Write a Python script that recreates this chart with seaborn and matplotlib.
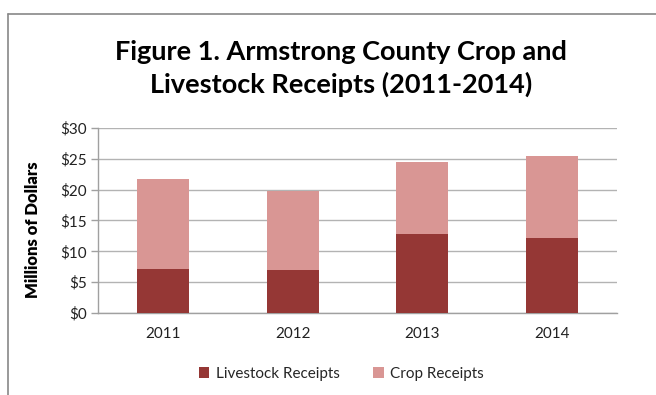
import matplotlib
matplotlib.use("Agg")
import matplotlib.pyplot as plt
import seaborn as sns
import pandas as pd
from matplotlib.patches import Patch
from matplotlib.lines import Line2D

years = ["2011", "2012", "2013", "2014"]
livestock = [7.2, 6.95, 12.8, 12.1]
crop = [14.6, 12.85, 11.7, 13.3]
yticks = [0, 5, 10, 15, 20, 25, 30]
ytick_labels = ["$0", "$5", "$10", "$15", "$20", "$25", "$30"]

c_live = "#953735"
c_crop = "#D99694"

sns.set_theme(style="white")
plt.rcParams["font.family"] = ["Lato", "DejaVu Sans"]

df = pd.DataFrame({"Year": years, "Livestock": livestock, "Crop": crop})
df["Total"] = df["Livestock"] + df["Crop"]

fig = plt.figure(figsize=(6.56, 3.95), dpi=100)
ax = fig.add_axes([0.149, 0.2076, 0.792, 0.4684])

sns.barplot(data=df, x="Year", y="Total", color=c_crop, width=0.4, ax=ax,
            saturation=1, edgecolor="none", zorder=3)
sns.barplot(data=df, x="Year", y="Livestock", color=c_live, width=0.4, ax=ax,
            saturation=1, edgecolor="none", zorder=3)

ax.set_xlim(-0.5, 3.5)
ax.set_ylim(0, 30)
ax.set_yticks(yticks)
ax.set_yticklabels(ytick_labels, fontsize=11, color="#222222")
ax.set_xticks(range(len(years)))
ax.set_xticklabels(years, fontsize=11, color="#222222")
ax.set_xticks([-0.5, 0.5, 1.5, 2.5, 3.5], minor=True)
ax.tick_params(axis="x", which="major", length=0, pad=10)
ax.tick_params(axis="x", which="minor", length=5, color="#a0a0a0", width=1, direction="out")
ax.tick_params(axis="y", length=5, color="#a0a0a0", width=1, direction="out", pad=3, left=True)
ax.yaxis.grid(True, color="#b3b3b3", linewidth=1, zorder=0)
ax.set_axisbelow(True)
for s in ["top", "right"]:
    ax.spines[s].set_visible(False)
for s in ["left", "bottom"]:
    ax.spines[s].set_color("#a0a0a0")
    ax.spines[s].set_linewidth(1)

ax.set_xlabel("")
ax.set_ylabel("Millions of Dollars", fontsize=12, fontweight="heavy", color="black")
ax.yaxis.set_label_coords(-0.11, 0.45)

fig.text(0.52, 0.827, "Figure 1. Armstrong County Crop and\nLivestock Receipts (2011-2014)",
         ha="center", va="center", fontsize=19.5, fontweight="bold", linespacing=1.35,
         color="black")

handles = [Patch(facecolor=c_live, edgecolor="none", label="Livestock Receipts"),
           Patch(facecolor=c_crop, edgecolor="none", label="Crop Receipts")]
fig.legend(handles=handles, loc="center", bbox_to_anchor=(0.52, 0.053), ncol=2,
           frameon=False, fontsize=11, handlelength=0.7, handleheight=0.7,
           handletextpad=0.4, columnspacing=2.2)

# outer frame (top and left)
fig.add_artist(Line2D([8/656, 1.0], [1-14/395, 1-14/395], transform=fig.transFigure,
                      color="#888888", linewidth=1.2))
fig.add_artist(Line2D([8/656, 8/656], [0, 1-14/395], transform=fig.transFigure,
                      color="#888888", linewidth=1.2))

fig.savefig("out.png", dpi=100, facecolor="white")
